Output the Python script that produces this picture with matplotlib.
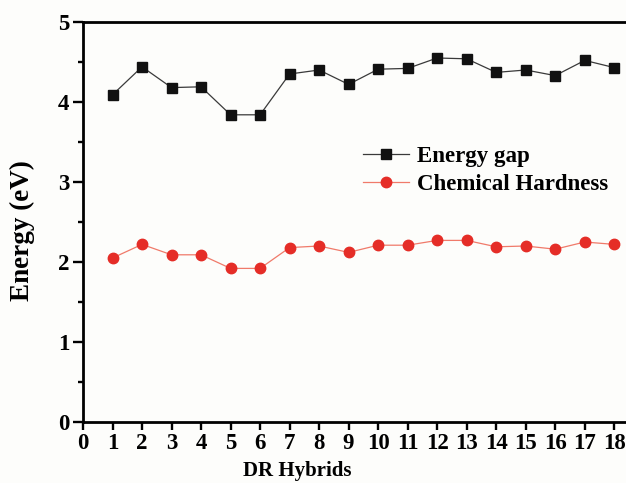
import numpy as np
import matplotlib.pyplot as plt
from matplotlib.ticker import MultipleLocator

# DR hybrid index
hybrids = list(range(1, 19))

# energy gap (eV)
energy_gap = [4.09, 4.44, 4.18, 4.19, 3.84, 3.84, 4.35, 4.40, 4.22,
              4.41, 4.42, 4.55, 4.54, 4.37, 4.40, 4.33, 4.52, 4.43]

# chemical hardness (eV)
hardness = [2.05, 2.22, 2.09, 2.09, 1.92, 1.92, 2.18, 2.20, 2.12,
            2.21, 2.21, 2.27, 2.27, 2.19, 2.20, 2.16, 2.25, 2.22]

x_ticks = list(range(0, 19))
y_ticks = [0, 1, 2, 3, 4, 5]

plt.rcParams["font.family"] = ["Liberation Serif", "DejaVu Serif"]
plt.rcParams["font.weight"] = "bold"

fig = plt.figure(figsize=(6.26, 4.83), dpi=100, facecolor="#fdfdfb")
ax = fig.add_axes([83 / 626, 61 / 483, 546 / 626, 400 / 483])
ax.set_facecolor("#fdfdfb")

ax.plot(hybrids, energy_gap, color="#3a3a3a", linewidth=0.9, marker="s",
        markersize=6.8, markerfacecolor="#111111", markeredgecolor="#111111",
        label="Energy gap")
ax.plot(hybrids, hardness, color="#f07a6a", linewidth=0.9, marker="o",
        markersize=7.5, markerfacecolor="#e52d27", markeredgecolor="#e52d27",
        label="Chemical Hardness")

ax.set_xlim(0, 18.5)
ax.set_ylim(0, 5)
ax.set_xticks(x_ticks)
ax.set_yticks(y_ticks)
ax.yaxis.set_minor_locator(MultipleLocator(0.5))

ax.tick_params(axis="both", which="major", direction="out", length=7, width=1.7,
               labelsize=16.5, pad=3)
ax.tick_params(axis="y", which="minor", direction="out", length=3.5, width=1.7)
ax.tick_params(axis="x", which="major", length=6, pad=2)
for lab in ax.get_xticklabels() + ax.get_yticklabels():
    lab.set_fontweight("bold")

for side in ["left", "bottom", "top", "right"]:
    ax.spines[side].set_linewidth(2.0)

ax.set_xlabel("DR Hybrids", fontsize=15, fontweight="bold")
ax.set_ylabel("Energy (eV)", fontsize=19.5, fontweight="bold")
ax.xaxis.set_label_coords(0.393, -0.098)
ax.yaxis.set_label_coords(-0.088, 0.478)

leg = ax.legend(loc="upper left", bbox_to_anchor=(0.513, 0.69), frameon=False,
                fontsize=16.5, handlelength=2.0, handletextpad=0.35,
                labelspacing=0.3, borderpad=0, borderaxespad=0)
for t in leg.get_texts():
    t.set_fontweight("bold")

fig.savefig("out.png", dpi=100, facecolor=fig.get_facecolor())
